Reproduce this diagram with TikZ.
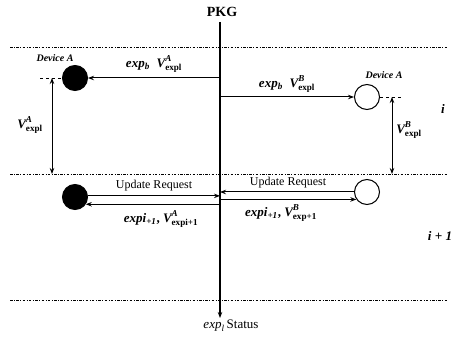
\documentclass[tikz,border=0pt]{standalone}
\usepackage{amsmath}
\usepackage{fontspec}
\setmainfont{Liberation Serif}
\usetikzlibrary{arrows.meta}
\newcommand{\ex}{\textit{exp}}
\newcommand{\val}[2]{$\textit{V}^{\textit{#1}}_{\textbf{#2}}$}

\begin{document}
\begin{tikzpicture}[x=1pt, y=-1pt, line width=1pt, >={Stealth[length=6pt,width=4.5pt]},
    font=\fontsize{12}{14}\selectfont,
    dev/.style={draw, circle, minimum size=25pt, inner sep=0pt},
    devlabel/.style={font=\fontsize{10}{12}\selectfont\itshape\bfseries},
    lbl/.style={font=\fontsize{13}{15}\selectfont\bfseries, inner sep=1pt}]
  \useasboundingbox (0,0) rectangle (459,337);
  % phase borders
  \foreach \y in {47,174,300} \draw[line width=0.7pt, dash pattern=on 2.5pt off 1.5pt on 0.8pt off 1.5pt] (10,\y) -- (448,\y);
  % PKG time line
  \node[font=\fontsize{14}{16}\selectfont\bfseries] (pkg) at (222,12) {PKG};
  \coordinate (top) at (220,22);
  \coordinate (bot) at (220,318);
  \draw[->, line width=1.5pt] (top) -- (bot);
  \node[lbl, font=\fontsize{13}{15}\selectfont] (status) at (231,326) {\ex$_{\textit{l}}$\,Status};
  % devices
  \node[dev, fill=black] (devA1) at (75,78) {};
  \node[dev, fill=white] (devB1) at (367,97) {};
  \node[dev, fill=black] (devA2) at (75,197) {};
  \node[dev, fill=white] (devB2) at (367,192) {};
  \node[devlabel] (nameA) at (55,58) {Device A};
  \node[devlabel] (nameB) at (384,75) {Device A};
  % phase i
  \draw[->] (devA1 -| top) -- (devA1);
  \draw[->] (devB1 -| top) -- (devB1);
  \node[lbl] (expA) at (154,64) {\ex$_{\textit{b}}$\; \val{A}{expl}};
  \node[lbl] (expB) at (287,84) {\ex$_{\textit{b}}$\; \val{B}{expl}};
  \coordinate (stubA) at (40,78);
  \coordinate (stubB) at (403,97);
  \draw[dashed, line width=0.7pt] (stubA) -- (devA1.west);
  \draw[dashed, line width=0.7pt] (devB1.east) -- (stubB);
  \coordinate (vA1) at (52,78);
  \coordinate (vA2) at (52,174);
  \coordinate (vB1) at (392,97);
  \coordinate (vB2) at (392,174);
  \draw[<->] (vA1) -- (vA2);
  \draw[<->] (vB1) -- (vB2);
  \node[lbl] (valA) at (30,125) {\val{A}{expl}};
  \node[lbl] (valB) at (409,130) {\val{B}{expl}};
  \node[lbl] (phase1) at (443,109) {\textit{i}};
  % phase i+1
  \draw[->] (devA2.5) -- (devA2.5 -| top);
  \draw[->] (devA2.-34 -| top) -- (devA2.-34);
  \draw[->] (devB2.west) -- (devB2.west -| top);
  \draw[->] (devB2.215 -| top) -- (devB2.215);
  \node (reqA) at (154,186) {Update Request};
  \node (reqB) at (288,183) {Update Request};
  \node[lbl] (updA) at (161,219) {\textit{expi}$_{\textit{+1}}$, \val{A}{expi+1}};
  \node[lbl] (updB) at (281,213) {\textit{expi}$_{\textit{+1}}$, \val{B}{exp+1}};
  \node[lbl] (phase2) at (440,236) {\textit{i + 1}};
\end{tikzpicture}
\end{document}
